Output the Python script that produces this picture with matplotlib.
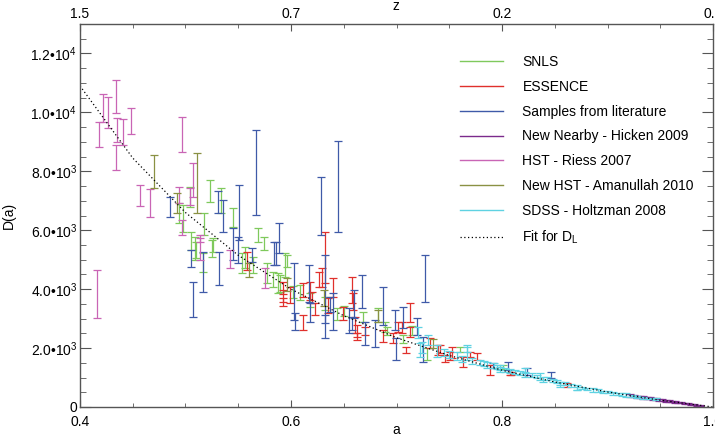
import matplotlib
matplotlib.use("Agg")
import matplotlib.pyplot as plt
from matplotlib.lines import Line2D
from matplotlib.ticker import MultipleLocator, FixedLocator

plt.rcParams["font.family"] = ["Liberation Sans", "DejaVu Sans"]
plt.rcParams["mathtext.fontset"] = "custom"
plt.rcParams["mathtext.rm"] = "Liberation Sans"
plt.rcParams["mathtext.it"] = "Liberation Sans:italic"

# --- data: scale factor a, distance D(a), half error ---
snls_a = [0.504, 0.523, 0.534, 0.545, 0.494, 0.498, 0.518, 0.525, 0.510, 0.517,
          0.569, 0.574, 0.554, 0.588, 0.505, 0.509, 0.556, 0.594, 0.564, 0.577,
          0.583, 0.590, 0.609, 0.618, 0.632, 0.644, 0.682, 0.689, 0.706, 0.729,
          0.596, 0.691, 0.526, 0.602, 0.650, 0.668, 0.715, 0.760, 0.801]
snls_d = [7119, 7322, 7000, 6424, 6577, 6390, 6204, 5373, 5322, 4899,
          5831, 5543, 4882, 4204, 5627, 5373, 5068, 4814, 4814, 4543,
          4322, 4187, 3882, 3627, 3509, 3153, 3119, 2712, 2305, 1797,
          4949, 2576, 5492, 3900, 3250, 3050, 2600, 1950, 1356]
snls_e = [339, 373, 424, 322, 339, 458, 373, 288, 271, 322,
          237, 220, 339, 339, 305, 390, 356, 407, 271, 339,
          254, 288, 254, 237, 220, 203, 237, 170, 136, 203,
          203, 136, 237, 200, 170, 160, 150, 100, 70]

essence_a = [0.558, 0.592, 0.592, 0.599, 0.611, 0.618, 0.611, 0.627, 0.632, 0.635,
             0.649, 0.658, 0.661, 0.629, 0.640, 0.623, 0.663, 0.620, 0.659, 0.663,
             0.670, 0.687, 0.697, 0.701, 0.713, 0.713, 0.709, 0.739, 0.732, 0.751,
             0.705, 0.741, 0.753, 0.763, 0.776, 0.789, 0.809, 0.862, 0.746, 0.770,
             0.808, 0.592]
essence_d = [4949, 4034, 3763, 3797, 3966, 3932, 2865, 4322, 5068, 3441,
             3170, 3966, 2780, 4390, 4051, 3322, 2576, 3712, 3576, 2390,
             2576, 2407, 2339, 2712, 3204, 2543, 1932, 1932, 2170, 1729,
             2695, 1966, 1848, 1526, 1712, 1254, 1136, 746, 1644, 1780,
             1170, 3560]
essence_e = [305, 203, 203, 271, 237, 305, 254, 254, 864, 254,
             220, 441, 271, 322, 322, 203, 203, 186, 288, 119,
             136, 203, 170, 170, 322, 170, 102, 170, 170, 136,
             186, 136, 186, 170, 119, 170, 51, 68, 119, 85,
             85, 136]

lit_a = [0.567, 0.645, 0.628, 0.485, 0.531, 0.536, 0.551, 0.586, 0.505, 0.517,
         0.507, 0.532, 0.545, 0.550, 0.563, 0.589, 0.584, 0.603, 0.617, 0.632,
         0.640, 0.655, 0.604, 0.632, 0.618, 0.637, 0.667, 0.660, 0.727, 0.687,
         0.699, 0.706, 0.719, 0.680, 0.670, 0.700, 0.658, 0.806, 0.846, 0.791,
         0.824, 0.725]
lit_d = [7950, 7475, 6814, 6780, 6950, 6475, 6594, 5204, 5034, 4577,
         3644, 4695, 5526, 5322, 5153, 5729, 5204, 3915, 4187, 4000,
         3237, 2932, 2898, 2729, 3204, 3475, 3915, 3492, 4356, 3424,
         2949, 3034, 2729, 2492, 2492, 1966, 2831, 1390, 1085, 1407,
         1203, 1949]
lit_e = [1441, 1542, 983, 339, 373, 542, 932, 390, 288, 678,
         593, 559, 542, 441, 237, 508, 390, 966, 627, 1153,
         627, 424, 288, 390, 322, 254, 559, 475, 797, 644,
         339, 356, 288, 458, 390, 373, 220, 136, 102, 85,
         119, 424]

nearby_a = [0.921, 0.925, 0.928, 0.931, 0.934, 0.937, 0.940, 0.943, 0.946, 0.949,
            0.952, 0.955, 0.958, 0.961, 0.964, 0.967, 0.970, 0.973, 0.976, 0.979,
            0.982, 0.985, 0.988]
nearby_d = [385, 362, 352, 331, 322, 301, 293, 270, 262, 241,
            233, 212, 204, 182, 176, 152, 144, 121, 113, 92,
            84, 63, 52]
nearby_e = [40, 35, 35, 30, 35, 30, 30, 30, 30, 30,
            30, 28, 28, 28, 25, 25, 25, 25, 22, 22,
            20, 20, 18]

riess_a = [0.416, 0.418, 0.422, 0.427, 0.434, 0.435, 0.434, 0.441, 0.448, 0.457,
           0.466, 0.497, 0.507, 0.494, 0.504, 0.514, 0.497, 0.514, 0.542, 0.575]
riess_d = [3830, 9238, 10136, 9984, 10526, 9390, 8458, 9322, 9695, 7170,
           6915, 9238, 7695, 7187, 7136, 5712, 6100, 5355, 5017, 4373]
riess_e = [815, 424, 474, 525, 559, 407, 424, 440, 440, 356,
           475, 593, 576, 271, 288, 120, 250, 373, 305, 339]

amanullah_a = [0.470, 0.511, 0.492, 0.560, 0.596, 0.631, 0.682, 0.735]
amanullah_d = [7983, 7594, 6916, 4650, 4150, 3700, 3100, 2150]
amanullah_e = [560, 1017, 339, 250, 220, 280, 200, 150]

sdss_a = [0.720, 0.722, 0.724, 0.730, 0.738, 0.745, 0.750, 0.757, 0.762, 0.767,
          0.767, 0.772, 0.779, 0.783, 0.786, 0.792, 0.795, 0.798, 0.798, 0.803,
          0.808, 0.812, 0.817, 0.822, 0.822, 0.828, 0.833, 0.836, 0.839, 0.843,
          0.848, 0.852, 0.855, 0.855, 0.860, 0.865, 0.871, 0.871, 0.876, 0.881,
          0.886, 0.891, 0.896, 0.900, 0.905, 0.910, 0.914, 0.918, 0.923, 0.928,
          0.934, 0.940, 0.946]
sdss_d = [2525, 1932, 2017, 2271, 1898, 1850, 1780, 1729, 1640, 1983,
          1814, 1560, 1509, 1470, 1424, 1407, 1360, 1305, 1305, 1270,
          1230, 1200, 1160, 1102, 1237, 1080, 1040, 1034, 932, 960,
          900, 860, 763, 797, 790, 740, 661, 627, 640, 610,
          576, 550, 520, 500, 458, 450, 420, 407, 380, 350,
          320, 290, 260]
sdss_e = [186, 237, 186, 170, 203, 120, 110, 136, 100, 119,
          220, 90, 85, 80, 102, 85, 80, 119, 51, 70,
          60, 70, 60, 85, 85, 70, 60, 119, 85, 60,
          60, 55, 85, 51, 50, 50, 85, 51, 45, 45,
          68, 45, 40, 40, 51, 40, 40, 68, 40, 35,
          35, 30, 30]

fit_a = [0.40, 0.45, 0.50, 0.55, 0.60, 0.65, 0.70, 0.75, 0.80, 0.85, 0.90, 0.95, 1.00]
fit_d = [10900, 8450, 6600, 5150, 4000, 3100, 2350, 1750, 1250, 850, 510, 230, 0]

series = [
    ("SNLS", "#7fc95c", snls_a, snls_d, snls_e),
    ("ESSENCE", "#e0302c", essence_a, essence_d, essence_e),
    ("Samples from literature", "#3f5aa8", lit_a, lit_d, lit_e),
    ("New Nearby - Hicken 2009", "#7b2a8c", nearby_a, nearby_d, nearby_e),
    ("HST - Riess 2007", "#c965b5", riess_a, riess_d, riess_e),
    ("New HST - Amanullah 2010", "#8a9143", amanullah_a, amanullah_d, amanullah_e),
    ("SDSS - Holtzman 2008", "#5fd2e2", sdss_a, sdss_d, sdss_e),
]

fig = plt.figure(figsize=(7.15, 4.38), dpi=100)
ax = fig.add_axes([80 / 715, 1 - 407 / 438, 633 / 715, 383 / 438])

handles = []
for label, color, xa, yd, ye in series:
    ax.errorbar(xa, yd, yerr=ye, fmt="none", ecolor=color, elinewidth=0.9,
                capsize=2.6, capthick=0.9)
    handles.append(Line2D([], [], color=color, lw=1.0, label=label))

ax.plot(fit_a, fit_d, color="black", lw=0.9, ls=(0, (1, 2)))
handles.append(Line2D([], [], color="black", lw=0.9, ls=(0, (1, 2)),
                      label="Fit for D$_\\mathregular{L}$"))

ax.set_xlim(0.4, 1.0)
ax.set_ylim(0, 13000)

spine_col = "#555555"
for s in ax.spines.values():
    s.set_color(spine_col)
    s.set_linewidth(1.0)

ax.xaxis.set_major_locator(FixedLocator([0.4, 0.6, 0.8, 1.0]))
ax.xaxis.set_minor_locator(MultipleLocator(0.05))
ax.set_xticklabels(["0.4", "0.6", "0.8", "1.0"])
ax.yaxis.set_major_locator(FixedLocator([0, 2000, 4000, 6000, 8000, 10000, 12000]))
ax.yaxis.set_minor_locator(MultipleLocator(500))
ax.set_yticklabels(["0", "2.0•10$^{3}$", "4.0•10$^{3}$", "6.0•10$^{3}$",
                    "8.0•10$^{3}$", "1.0•10$^{4}$", "1.2•10$^{4}$"])

ax.tick_params(axis="both", which="both", direction="in", color=spine_col,
               labelsize=10, right=True)
ax.tick_params(axis="x", which="major", length=5, pad=6)
ax.tick_params(axis="x", which="minor", length=3)
ax.tick_params(axis="y", which="major", length=8, pad=2)
ax.tick_params(axis="y", which="minor", length=4)

# redshift axis on top
top = ax.twiny()
top.set_xlim(ax.get_xlim())
top_ticks = [0.4, 0.6, 0.8, 1.0]
top.xaxis.set_major_locator(FixedLocator(top_ticks))
top.xaxis.set_minor_locator(MultipleLocator(0.05))
top.set_xticklabels(["%.1f" % (1 / t - 1) for t in top_ticks])
top.tick_params(axis="x", which="both", direction="in", color=spine_col, labelsize=10)
top.tick_params(axis="x", which="major", length=5, pad=2)
top.tick_params(axis="x", which="minor", length=3)
for s in top.spines.values():
    s.set_visible(False)

# axis titles
fig.text(396 / 715, 1 - 6 / 438, "z", fontsize=10, ha="center", va="center")
fig.text(396 / 715, 1 - 430 / 438, "a", fontsize=10, ha="center", va="center")
fig.text(9 / 715, 1 - 215 / 438, "D(a)", fontsize=10, ha="center", va="center",
         rotation=90)

ax.legend(handles=handles, loc="upper left", bbox_to_anchor=(453 / 715, 1 - 48 / 438),
          bbox_transform=fig.transFigure, frameon=False, fontsize=10,
          handlelength=3.1, handletextpad=1.4, labelspacing=0.78, borderpad=0)

fig.savefig("out.png", dpi=100)
